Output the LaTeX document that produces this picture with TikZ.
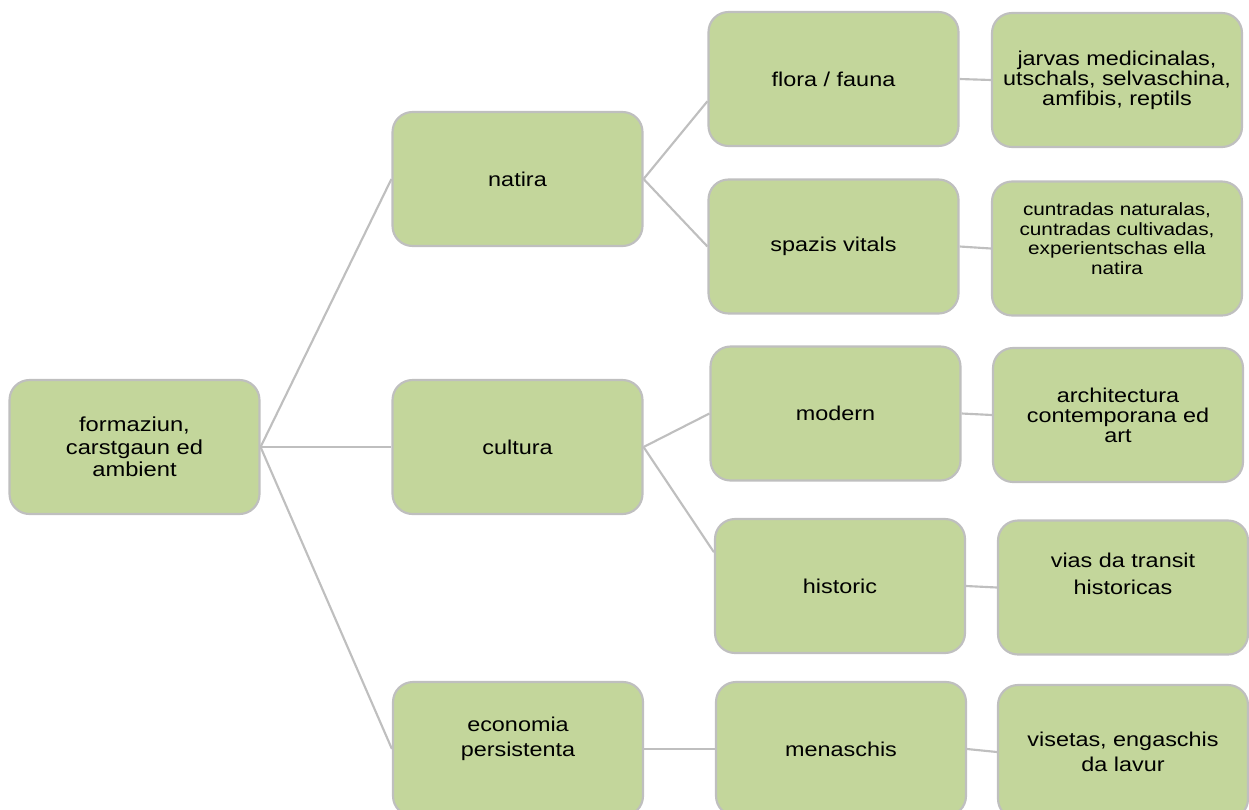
\documentclass[tikz,border=0pt]{standalone}
\usepackage{fontspec}
\setmainfont[FakeStretch=1.17]{Liberation Sans}

\definecolor{boxfill}{HTML}{C3D69B}
\definecolor{boxline}{HTML}{BFBFBF}
\newcommand\fsz[2]{\fontsize{#1}{#2}\selectfont\lineskiplimit=-50pt\relax}

\begin{document}
\begin{tikzpicture}[x=0.75pt,y=-0.75pt,every node/.style={font=\fsz{15}{17}}]
  \tikzset{
    box/.style={rectangle,draw=boxline,fill=boxfill,line width=1.6pt,rounded corners=15pt,
      minimum width=187.5pt,minimum height=100.5pt,inner sep=0pt,align=center},
    link/.style={draw=boxline,line width=1.6pt}
  }
  \useasboundingbox (0,0) rectangle (1249,810);
  % first level
  \node[box,font=\fsz{15.2}{16.9}] (root) at (134.5,447) {formaziun,\\carstgaun ed\\ambient};
  % second level
  \node[box] (natira) at (517.5,179) {natira};
  \node[box] (cultura) at (517.5,447) {cultura};
  \node[box,font=\fsz{15}{18.75}] (economia) at (518,749) {economia\\persistenta\\~};
  % third level
  \node[box] (flora) at (833.5,79) {flora / fauna};
  \node[box] (spazis) at (833.5,246.5) {spazis vitals};
  \node[box] (modern) at (835.5,413.5) {modern};
  \node[box] (historic) at (840,586) {historic};
  \node[box] (menaschis) at (841,749) {menaschis};
  % fourth level
  \node[box,font=\fsz{15}{15}] (jarvas) at (1117,80) {jarvas medicinalas,\\utschals, selvaschina,\\amfibis, reptils};
  \node[box,font=\fsz{13.3}{14.6}] (cuntradas) at (1117,248.5) {cuntradas naturalas,\\cuntradas cultivadas,\\experientschas ella\\natira\\~};
  \node[box,font=\fsz{15}{15}] (architectura) at (1118,415) {architectura\\contemporana ed\\art};
  \node[box,font=\fsz{15}{20.25}] (vias) at (1123,587.5) {vias da transit\\historicas\\~};
  \node[box,font=\fsz{15}{18.75}] (visetas) at (1123,752) {visetas, engaschis\\da lavur};
  % connectors
  \foreach \u/\v in {root.east/natira.west,root.east/cultura.west,root.east/economia.west,
      natira.east/flora.190,natira.east/spazis.west,cultura.east/modern.west,cultura.east/historic.165,
      economia.east/menaschis.west,flora.east/jarvas.west,spazis.east/cuntradas.west,
      modern.east/architectura.west,historic.east/vias.west,menaschis.east/visetas.west}
    \draw[link] (\u)--(\v);
\end{tikzpicture}
\end{document}
